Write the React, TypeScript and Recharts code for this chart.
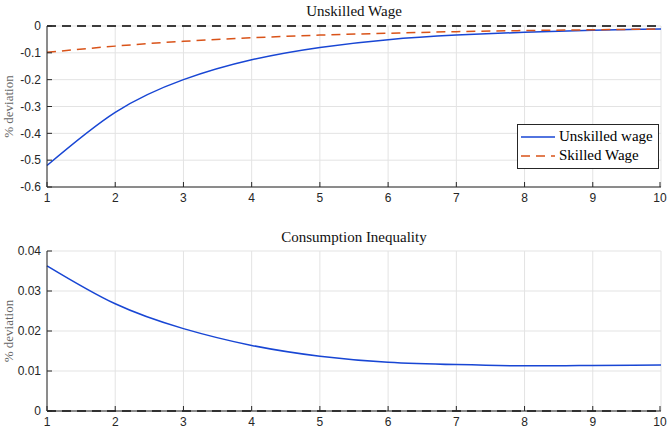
import React from "react"
import { CartesianGrid, Legend, Line, LineChart, ReferenceLine, XAxis, YAxis } from "recharts"

// impulse responses, periods 1..10
const periods = [1, 2, 3, 4, 5, 6, 7, 8, 9, 10]
const unskilledWage = [-0.52, -0.322, -0.2, -0.126, -0.08, -0.051, -0.034, -0.023, -0.016, -0.011]
const skilledWage = [-0.098, -0.075, -0.057, -0.044, -0.034, -0.027, -0.021, -0.017, -0.014, -0.011]
const inequality = [0.0363, 0.0268, 0.0206, 0.0164, 0.0137, 0.0122, 0.0116, 0.0113, 0.0114, 0.0115]

const topTicks = [-0.6, -0.5, -0.4, -0.3, -0.2, -0.1, 0]
const bottomTicks = [0, 0.01, 0.02, 0.03, 0.04]
const legendOrder = ["unskilled", "skilled"]

const wageData = periods.map((t, i) => ({ t, unskilled: unskilledWage[i], skilled: skilledWage[i] }))
const ineqData = periods.map((t, i) => ({ t, inequality: inequality[i] }))

const BLUE = "#1846d4"
const RED = "#d95319"
const AXIS = "#262626"
const TICK_SIZE = 0
const TICK_MARGIN = 6

const XTick = (props: any) => {
  const { x, y, payload } = props
  const axisY = y - TICK_SIZE - TICK_MARGIN
  return (
    <g>
      <line x1={x} x2={x} y1={axisY} y2={axisY - 5} stroke={AXIS} />
      <text x={x} y={y} dy="0.71em" textAnchor="middle" fontSize={12} fill={AXIS} fontFamily="Liberation Sans, Arial, sans-serif">
        {payload.value}
      </text>
    </g>
  )
}

const YTick = (props: any) => {
  const { x, y, payload } = props
  const axisX = x + TICK_SIZE + TICK_MARGIN
  return (
    <g>
      <line x1={axisX} x2={axisX + 5} y1={y} y2={y} stroke={AXIS} />
      <text x={x} y={y} dy="0.35em" textAnchor="end" fontSize={12} fill={AXIS} fontFamily="Liberation Sans, Arial, sans-serif">
        {payload.value}
      </text>
    </g>
  )
}

const LegendBox = (props: any) => {
  const items = [...(props.payload || [])].sort(
    (a: any, b: any) => legendOrder.indexOf(a.dataKey) - legendOrder.indexOf(b.dataKey)
  )
  return (
    <div style={{ background: "#fff", border: "1px solid #262626", padding: "2px 5px 3px 2px", fontFamily: "Liberation Serif, serif", fontSize: 15, lineHeight: "19px" }}>
      {items.map((entry: any) => (
        <div key={entry.value} style={{ display: "flex", alignItems: "center", whiteSpace: "nowrap" }}>
          <svg width={36} height={10} style={{ marginRight: 3 }}>
            <line x1={1} x2={35} y1={5} y2={5} stroke={entry.color} strokeWidth={1.5} strokeDasharray={entry.dataKey === "skilled" ? "9 6" : undefined} />
          </svg>
          <span>{entry.value}</span>
        </div>
      ))}
    </div>
  )
}

const titleStyle: React.CSSProperties = {
  position: "absolute",
  left: 47,
  width: 614,
  textAlign: "center",
  fontFamily: "Liberation Serif, serif",
  fontSize: 15,
  color: "#111",
}

const yLabel = {
  value: "% deviation",
  angle: -90,
  position: "insideLeft" as const,
  offset: 8,
  style: { textAnchor: "middle", fontFamily: "Liberation Serif, serif", fontSize: 13, fill: "#666" },
}

export default function App() {
  return (
    <div style={{ position: "absolute", left: 0, top: 0, width: 668, height: 428, background: "#fff" }}>
      <div style={{ ...titleStyle, top: 3 }}>Unskilled Wage</div>
      <div style={{ ...titleStyle, top: 229 }}>Consumption Inequality</div>
      <div style={{ position: "absolute", left: 0, top: 0 }}>
        <LineChart width={668} height={214} data={wageData} margin={{ top: 26, right: 7, left: 0, bottom: 0 }}>
          <CartesianGrid stroke="#e3e3e3" horizontalValues={topTicks} verticalValues={periods} />
          <XAxis dataKey="t" type="number" domain={[1, 10]} ticks={periods} height={27} stroke={AXIS} tickSize={TICK_SIZE} tickMargin={TICK_MARGIN} tick={<XTick />} />
          <YAxis type="number" domain={[-0.6, 0]} ticks={topTicks} width={47} stroke={AXIS} tickSize={TICK_SIZE} tickMargin={TICK_MARGIN} tick={<YTick />} label={yLabel} />
          <ReferenceLine y={0} stroke="#000" strokeWidth={1.5} strokeDasharray="9 6" />
          <Line type="natural" dataKey="unskilled" name="Unskilled wage" stroke={BLUE} strokeWidth={1.5} dot={false} isAnimationActive={false} />
          <Line type="natural" dataKey="skilled" name="Skilled Wage" stroke={RED} strokeWidth={1.5} strokeDasharray="9 6" dot={false} isAnimationActive={false} />
          <Legend layout="vertical" align="center" verticalAlign="middle" content={<LegendBox />} wrapperStyle={{ left: 517, top: 124, width: "auto", height: "auto" }} />
        </LineChart>
      </div>
      <div style={{ position: "absolute", left: 0, top: 214 }}>
        <LineChart width={668} height={214} data={ineqData} margin={{ top: 37, right: 7, left: 0, bottom: 0 }}>
          <CartesianGrid stroke="#e3e3e3" horizontalValues={bottomTicks} verticalValues={periods} />
          <XAxis dataKey="t" type="number" domain={[1, 10]} ticks={periods} height={17} stroke={AXIS} tickSize={TICK_SIZE} tickMargin={TICK_MARGIN} tick={<XTick />} />
          <YAxis type="number" domain={[0, 0.04]} ticks={bottomTicks} width={47} stroke={AXIS} tickSize={TICK_SIZE} tickMargin={TICK_MARGIN} tick={<YTick />} label={yLabel} />
          <Line type="natural" dataKey="inequality" name="Consumption Inequality" stroke={BLUE} strokeWidth={1.5} dot={false} isAnimationActive={false} />
          <ReferenceLine y={0} stroke="#000" strokeWidth={1.5} strokeDasharray="9 6" />
        </LineChart>
      </div>
    </div>
  )
}
